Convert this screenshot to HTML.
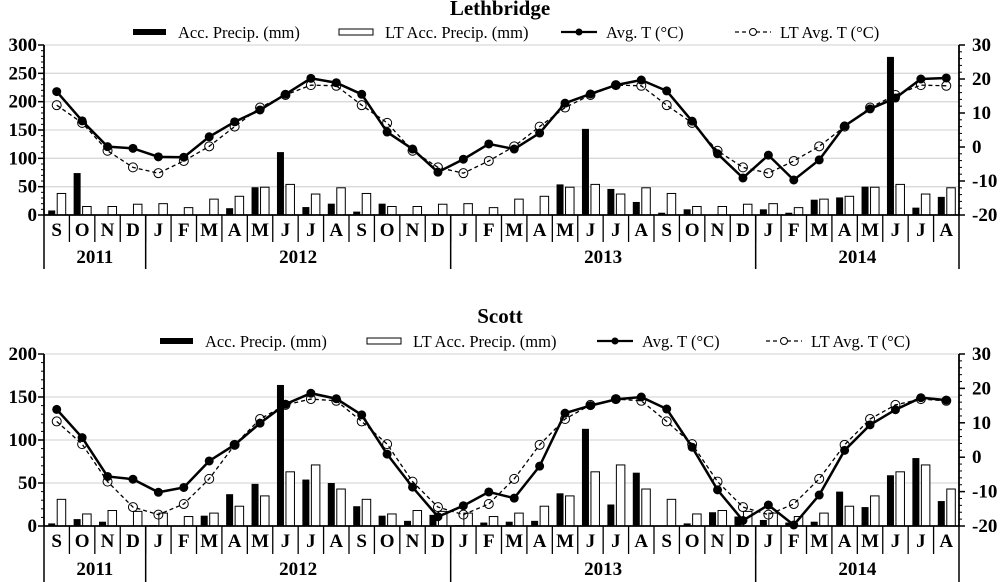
<!DOCTYPE html>
<html><head><meta charset="utf-8"><style>
body{margin:0;background:#fff}
svg{display:block}
text{font-family:"Liberation Serif",serif}
.tk{font-weight:bold;font-size:19px}
.lg{font-size:16.5px}
.ttl{font-weight:bold;font-size:21px}
</style></head><body>
<svg id="c" width="1000" height="582" viewBox="0 0 1000 582" xmlns="http://www.w3.org/2000/svg"></svg>
<script>
const months = ["S","O","N","D","J","F","M","A","M","J","J","A","S","O","N","D","J","F","M","A","M","J","J","A","S","O","N","D","J","F","M","A","M","J","J","A"];
const years = ["2011","2012","2013","2014"];
const yearStarts = [0,4,16,28];
const yearEnds = [4,16,28,36];
const lethPrecip = [8,74,0,0,0,0,1,12,49,111,14,20,6,20,1,0,0,0,0,1,54,152,46,23,4,10,0,0,10,4,27,31,50,279,13,32];
const lethLTPrecip = [38,15,15,19,20,13,28,33,49,54,37,48,38,15,15,19,20,13,28,33,49,54,37,48,38,15,15,19,20,13,28,33,49,54,37,48];
const lethTemp = [16.3,7.7,0.1,-0.4,-2.9,-3,3,7.4,10.9,15.5,20.2,18.9,15.5,4.4,-0.6,-7.4,-3.6,0.9,-0.6,4.1,12.9,15.6,18.2,19.7,16.5,7.6,-2,-9.1,-2.4,-9.7,-3.8,6.2,11.2,14.4,20,20.3];
const lethLTTemp = [12.3,7.1,-1.1,-6,-7.7,-4.1,0.2,6,11.6,15.3,18.2,18,12.3,7.1,-1.1,-6,-7.7,-4.1,0.2,6,11.6,15.3,18.2,18,12.3,7.1,-1.1,-6,-7.7,-4.1,0.2,6,11.6,15.3,18.2,18];
const scottPrecip = [3,8,5,0,1,0,12,37,49,164,54,50,23,12,6,13,1,4,5,6,38,113,25,62,0,3,16,11,7,4,5,40,22,59,79,29];
const scottLTPrecip = [31,14,18,17,15,11,15,23,35,63,71,43,31,14,18,17,15,11,15,23,35,63,71,43,31,14,18,17,15,11,15,23,35,63,71,43];
const scottTemp = [13.9,5.7,-5.6,-6.4,-10.2,-8.8,-1.1,3.6,9.9,15.4,18.6,17,12.3,0.9,-8.7,-17.3,-14.1,-10.1,-11.9,-2.6,12.8,15,16.8,17.5,14,2.9,-9.5,-18.4,-13.9,-19.7,-11,2,9.4,13.8,17.3,16.6];
const scottLTTemp = [10.4,3.8,-7.1,-14.5,-16.7,-13.6,-6.3,3.6,11.1,15.2,16.9,16.4,10.4,3.8,-7.1,-14.5,-16.7,-13.6,-6.3,3.6,11.1,15.2,16.9,16.4,10.4,3.8,-7.1,-14.5,-16.7,-13.6,-6.3,3.6,11.1,15.2,16.9,16.4];
const lethLeftTicks = [0,50,100,150,200,250,300];
const scottLeftTicks = [0,50,100,150,200];
const rightTicks = [-20,-10,0,10,20,30];

const svg = document.getElementById('c');
const NS = 'http://www.w3.org/2000/svg';
function mk(tag, attrs, parent){const e=document.createElementNS(NS,tag);for(const k in attrs)e.setAttribute(k,attrs[k]);(parent||svg).appendChild(e);return e;}

function drawChart(cfg){
  const g = mk('g',{});
  
  
  const x0=44, x1=959, n=months.length, bw=(x1-x0)/n;
  const yL = v => cfg.y0 - (v/cfg.lmax)*(cfg.y0-cfg.yTop);
  const yR = v => cfg.y0 - ((v+20)/50)*(cfg.y0-cfg.yTop);
  const cx = i => x0 + bw*(i+0.5);
  const t = mk('text',{x:500,y:cfg.titleY,'text-anchor':'middle',class:'ttl'},g); t.textContent=cfg.title;
   
  const lg = mk('g',{},g);
   
  const ly = cfg.legY;
  const lx = cfg.legX;
  let e;
  e=mk('rect',{x:lx[0],y:ly-4,width:33,height:6,fill:'#000'},lg);
   
  e=mk('text',{x:lx[0]+45,y:ly+5,class:'lg'},lg); e.textContent='Acc. Precip. (mm)';
  e=mk('rect',{x:lx[1],y:ly-4,width:34,height:6,fill:'#fff',stroke:'#000','stroke-width':1},lg);
   
  e=mk('text',{x:lx[1]+46,y:ly+5,class:'lg'},lg); e.textContent='LT Acc. Precip. (mm)';
  e=mk('line',{x1:lx[2],x2:lx[2]+36,y1:ly-1,y2:ly-1,stroke:'#000','stroke-width':2.2},lg);
   
  mk('circle',{cx:lx[2]+18,cy:ly-1,r:3.5,fill:'#000'},lg);
  e=mk('text',{x:lx[2]+45,y:ly+5,class:'lg'},lg); e.textContent='Avg. T (°C)';
  e=mk('line',{x1:lx[3],x2:lx[3]+36,y1:ly-1,y2:ly-1,stroke:'#000','stroke-width':1.2,'stroke-dasharray':'4,3'},lg);
   
  mk('circle',{cx:lx[3]+18,cy:ly-1,r:3.5,fill:'#fff',stroke:'#000'},lg);
  e=mk('text',{x:lx[3]+45,y:ly+5,class:'lg'},lg); e.textContent='LT Avg. T (°C)';
  cfg.leftTicks.forEach(v=>{
    const y=yL(v);
    if(v>0){const gl=mk('line',{x1:x0,x2:x1,y1:y,y2:y,stroke:'#d9d9d9','stroke-width':1.3},g);
       }
    const tl=mk('text',{x:x0-7,y:y+6,'text-anchor':'end',class:'tk'},g); tl.textContent=v;
     
    mk('line',{x1:x0-6,x2:x0,y1:y,y2:y,stroke:'#000','stroke-width':1.5},g);
  });
  const lstep=(cfg.y0-cfg.yTop)/(cfg.leftTicks.length-1)/5;
  for(let y=cfg.y0;y>=cfg.yTop-0.5;y-=lstep) mk('line',{x1:x0-3,x2:x0,y1:y,y2:y,stroke:'#000'},g);
  rightTicks.forEach(v=>{
    const y=yR(v);
    const tl=mk('text',{x:x1+13,y:y+6,class:'tk'},g); tl.textContent=v;
     
    mk('line',{x1:x1,x2:x1+6,y1:y,y2:y,stroke:'#000','stroke-width':1.5},g);
  });
  const rstep=(cfg.y0-cfg.yTop)/25;
  for(let y=cfg.y0;y>=cfg.yTop-0.5;y-=rstep) mk('line',{x1:x1,x2:x1+3,y1:y,y2:y,stroke:'#000'},g);
  cfg.precip.forEach((v,i)=>{
    const b=mk('rect',{x:cx(i)-8.5,y:yL(v),width:7,height:cfg.y0-yL(v),fill:'#000'},g);
     
  });
  cfg.ltPrecip.forEach((v,i)=>{
    const b=mk('rect',{x:cx(i)+0.5,y:yL(v),width:8.5,height:cfg.y0-yL(v),fill:'#fff',stroke:'#000','stroke-width':1},g);
     
  });
  const ltPts=cfg.ltTemp.map((v,i)=>cx(i)+','+yR(v)).join(' ');
  e=mk('polyline',{points:ltPts,fill:'none',stroke:'#000','stroke-width':1.3,'stroke-dasharray':'4,3'},g);
   
  cfg.ltTemp.forEach((v,i)=>{const c=mk('circle',{cx:cx(i),cy:yR(v),r:4.5,fill:'none',stroke:'#000','stroke-width':1},g);
     });
  const pts=cfg.temp.map((v,i)=>cx(i)+','+yR(v)).join(' ');
  e=mk('polyline',{points:pts,fill:'none',stroke:'#000','stroke-width':2.5},g);
   
  cfg.temp.forEach((v,i)=>{const c=mk('circle',{cx:cx(i),cy:yR(v),r:4.5,fill:'#000'},g);
     });
  mk('line',{x1:x0,x2:x0,y1:cfg.yTop,y2:cfg.y0,stroke:'#000','stroke-width':1.8},g);
  mk('line',{x1:x1,x2:x1,y1:cfg.yTop,y2:cfg.y0,stroke:'#000','stroke-width':1.8},g);
  mk('line',{x1:x0,x2:x1,y1:cfg.y0,y2:cfg.y0,stroke:'#000','stroke-width':1.8},g);
  months.forEach((m,i)=>{
    const tl=mk('text',{x:cx(i),y:cfg.y0+21,'text-anchor':'middle',class:'tk'},g); tl.textContent=m;
     
    if(i>0) mk('line',{x1:x0+bw*i,x2:x0+bw*i,y1:cfg.y0,y2:cfg.y0+cfg.mH,stroke:'#000','stroke-width':1.3},g);
  });
  years.forEach((yv,k)=>{
    const xs=x0+bw*yearStarts[k], xe=x0+bw*yearEnds[k];
    const tl=mk('text',{x:(xs+xe)/2,y:cfg.y0+cfg.mH+21,'text-anchor':'middle',class:'tk'},g); tl.textContent=yv;
     
    mk('line',{x1:xs,x2:xs,y1:cfg.y0,y2:cfg.y0+cfg.yH,stroke:'#000','stroke-width':1.5},g);
  });
  mk('line',{x1:x1,x2:x1,y1:cfg.y0,y2:cfg.y0+cfg.yH,stroke:'#000','stroke-width':1.5},g);
}
drawChart({name:'lethbridge-chart',title:'Lethbridge',titleY:15,legY:33,legX:[133,339,561,735],yTop:45,y0:215,lmax:300,leftTicks:lethLeftTicks,
  precip:lethPrecip,ltPrecip:lethLTPrecip,temp:lethTemp,ltTemp:lethLTTemp,mH:27,yH:54});
drawChart({name:'scott-chart',title:'Scott',titleY:323,legY:342,legX:[160,367,597,766],yTop:354,y0:526,lmax:200,leftTicks:scottLeftTicks,
  precip:scottPrecip,ltPrecip:scottLTPrecip,temp:scottTemp,ltTemp:scottLTTemp,mH:28,yH:56});
</script>
</body></html>
